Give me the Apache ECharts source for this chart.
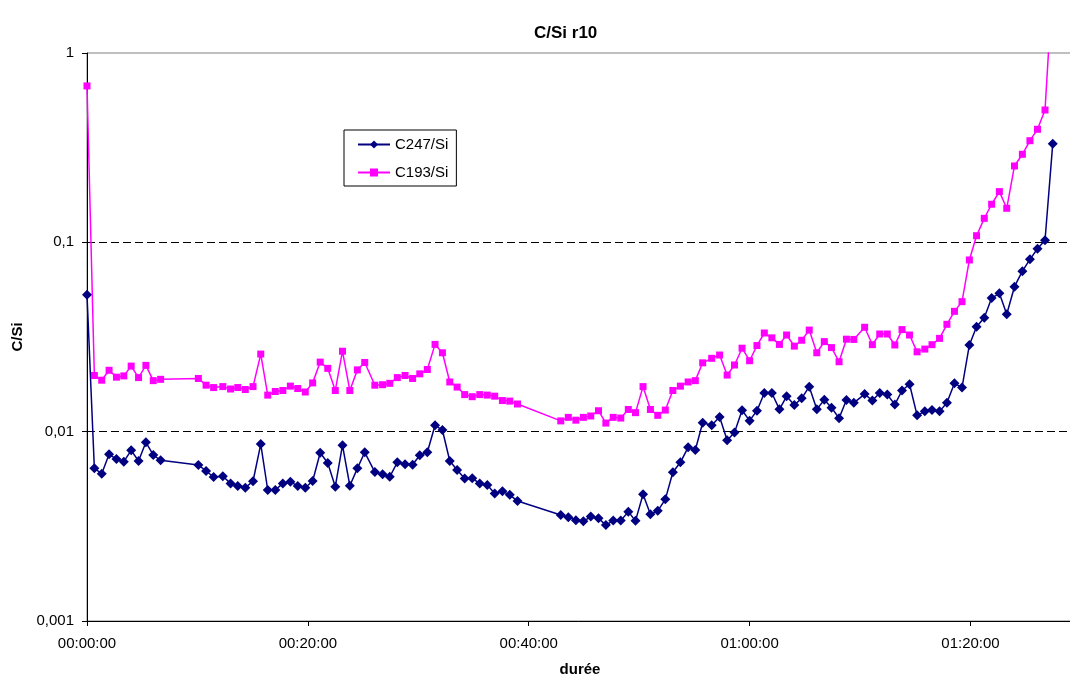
<!DOCTYPE html>
<html>
<head>
<meta charset="utf-8">
<script src="https://cdn.jsdelivr.net/npm/echarts@6/dist/echarts.min.js"></script>
<style>
html,body{margin:0;padding:0;background:#fff;}
#chart{width:1070px;height:680px;}
</style>
</head>
<body>
<div id="chart"></div>
<script>
// elapsed time of each measurement, in seconds
var times = [0,40,80,120,160,200,240,280,320,360,400,
605,647,688,738,780,819,860,902,944,982,1023,1064,1105,1145,1186,1226,1267,1308,1349,1388,1428,1469,1509,1564,1606,1645,1686,1728,1769,1808,1849,1891,1931,1971,2011,2052,2093,2134,2175,2215,2257,2297,2339,
2574,2615,2656,2697,2737,2779,2819,2859,2900,2941,2980,3021,3061,3101,3142,3183,3224,3266,3305,3345,3394,3437,3478,3518,3559,3600,3640,3680,3721,3762,3801,3843,3883,3924,3965,4006,4045,4086,4126,4166,4225,4267,4307,4348,4389,4428,4469,4510,4552,4591,4632,4672,4713,4754,4794,4833,4875,4915,4957,4997,5039,5082,5123,5164,5205,5247];

var c247 = [0.0529,0.0064,0.0060,0.00759,0.00717,0.00694,0.00797,0.00700,0.00879,0.00753,0.00706,
0.00667,0.00620,0.00576,0.00581,0.00533,0.00516,0.00506,0.00547,0.00860,0.00492,0.00492,0.00533,0.00544,0.00516,0.00506,0.00549,0.00774,0.00683,0.00512,0.00848,0.00518,0.00640,0.00778,0.00612,0.00595,0.00578,0.00689,0.00672,0.00669,0.00750,0.00778,0.01081,0.01020,0.00700,0.00628,0.00565,0.00567,0.00533,0.00522,0.00472,0.00484,0.00464,0.00430,
0.00363,0.00353,0.00341,0.00336,0.00356,0.00349,0.00321,0.00339,0.00339,0.00378,0.00338,0.00467,0.00366,0.00382,0.00439,0.00610,0.00689,0.00827,0.00800,0.01115,0.01080,0.01195,0.00900,0.00991,0.01297,0.01143,0.01291,0.01600,0.01600,0.01312,0.01537,0.01383,0.01500,0.01729,0.01312,0.01475,0.01339,0.01177,0.0147,0.0142,0.0158,0.0146,0.0160,0.0157,0.0139,0.0165,0.0178,0.0122,0.0128,0.0130,0.0128,0.0142,0.0180,0.0171,0.0287,0.0358,0.0400,0.0508,0.0538,0.0417,0.0583,0.0704,0.0813,0.0925,0.1025,0.332];

var c193 = [0.67,0.0198,0.0187,0.0211,0.0194,0.0197,0.0222,0.0193,0.0224,0.0186,0.0189,
0.0191,0.0176,0.0171,0.0173,0.0168,0.0171,0.0167,0.0173,0.0257,0.0156,0.0163,0.0165,0.0174,0.0169,0.0162,0.0181,0.0233,0.0216,0.0165,0.0266,0.0165,0.0212,0.0232,0.0176,0.0177,0.0180,0.0193,0.0198,0.0191,0.0202,0.0213,0.0289,0.0261,0.0183,0.0172,0.0157,0.0153,0.0157,0.0156,0.0154,0.0146,0.0145,0.0140,
0.0114,0.0119,0.0115,0.0119,0.0121,0.0129,0.0111,0.0119,0.0118,0.0131,0.0126,0.0173,0.0131,0.0122,0.0130,0.0165,0.0174,0.0183,0.0186,0.0231,0.0244,0.0254,0.0199,0.0225,0.0276,0.0237,0.0285,0.0332,0.0313,0.0289,0.0324,0.0283,0.0304,0.0344,0.0261,0.0299,0.0278,0.0234,0.0308,0.0307,0.0356,0.0288,0.0328,0.0328,0.0287,0.0346,0.0324,0.0264,0.0273,0.0288,0.0311,0.0369,0.0432,0.0486,0.0807,0.1084,0.1339,0.1589,0.1853,0.1513,0.2531,0.2918,0.3443,0.3954,0.500,2.4];

var seriesNames = ['C247/Si','C193/Si'];
var yTickLabels = {'1':'1','0.1':'0,1','0.01':'0,01','0.001':'0,001'};

function pair(vals){ return times.map(function(t,i){ return [t, vals[i]]; }); }
function hms(s){
  var h = Math.floor(s/3600), m = Math.floor((s%3600)/60), sec = Math.round(s%60);
  function p(n){ return (n<10?'0':'')+n; }
  return p(h)+':'+p(m)+':'+p(sec);
}

var font = "'Liberation Sans', Arial, sans-serif";
var chart = echarts.init(document.getElementById('chart'), null, {renderer:'canvas'});
chart.setOption({
  animation:false,
  backgroundColor:'#fff',
  title:{text:'C/Si r10', left:529, top:20, textStyle:{fontFamily:font, fontSize:17, fontWeight:'bold', color:'#000'}},
  grid:{left:87, right:-3, top:53, bottom:59, show:true, borderColor:'#808080', borderWidth:1, backgroundColor:'transparent', containLabel:false, outerBoundsMode:'none'},
  legend:{
    orient:'vertical', left:344, top:130,
    data:seriesNames,
    backgroundColor:'#fff', borderColor:'#000', borderWidth:1,
    padding:[7,8,6,13], itemWidth:32, itemHeight:10, itemGap:13,
    textStyle:{fontFamily:font, fontSize:15, color:'#000'}
  },
  xAxis:{
    type:'value', min:0, max:5357, interval:1200,
    name:'durée', nameLocation:'middle', nameGap:41,
    nameTextStyle:{fontFamily:font, fontSize:15, fontWeight:'bold', color:'#000'},
    axisLine:{lineStyle:{color:'#000', width:1}},
    axisTick:{show:true, inside:false, length:5, lineStyle:{color:'#000'}},
    axisLabel:{margin:15, fontFamily:font, fontSize:15, color:'#000', formatter:function(v){return hms(v);}, showMaxLabel:false},
    splitLine:{show:false}
  },
  yAxis:{
    type:'log', logBase:10, min:0.001, max:1,
    name:'C/Si', nameLocation:'middle', nameGap:61, nameRotate:90,
    nameTextStyle:{fontFamily:font, fontSize:15, fontWeight:'bold', color:'#000'},
    axisLine:{show:true, lineStyle:{color:'#000', width:1}},
    axisTick:{show:true, inside:false, length:5, lineStyle:{color:'#000'}},
    axisLabel:{margin:13, fontFamily:font, fontSize:15, color:'#000', formatter:function(v){ var k = String(+v.toPrecision(1)); return yTickLabels[k] || k; }},
    splitLine:{show:true, showMinLine:false, showMaxLine:false, lineStyle:{color:'#000', type:[8,4], width:1}}
  },
  series:[
    {name:seriesNames[0], type:'line', data:pair(c247), symbol:'diamond', symbolSize:10, clip:true,
     itemStyle:{color:'#000080'}, lineStyle:{color:'#000080', width:1.5}},
    {name:seriesNames[1], type:'line', data:pair(c193), symbol:'rect', symbolSize:7, clip:true,
     itemStyle:{color:'#FF00FF'}, lineStyle:{color:'#FF00FF', width:1.5}}
  ]
});
</script>
</body>
</html>
